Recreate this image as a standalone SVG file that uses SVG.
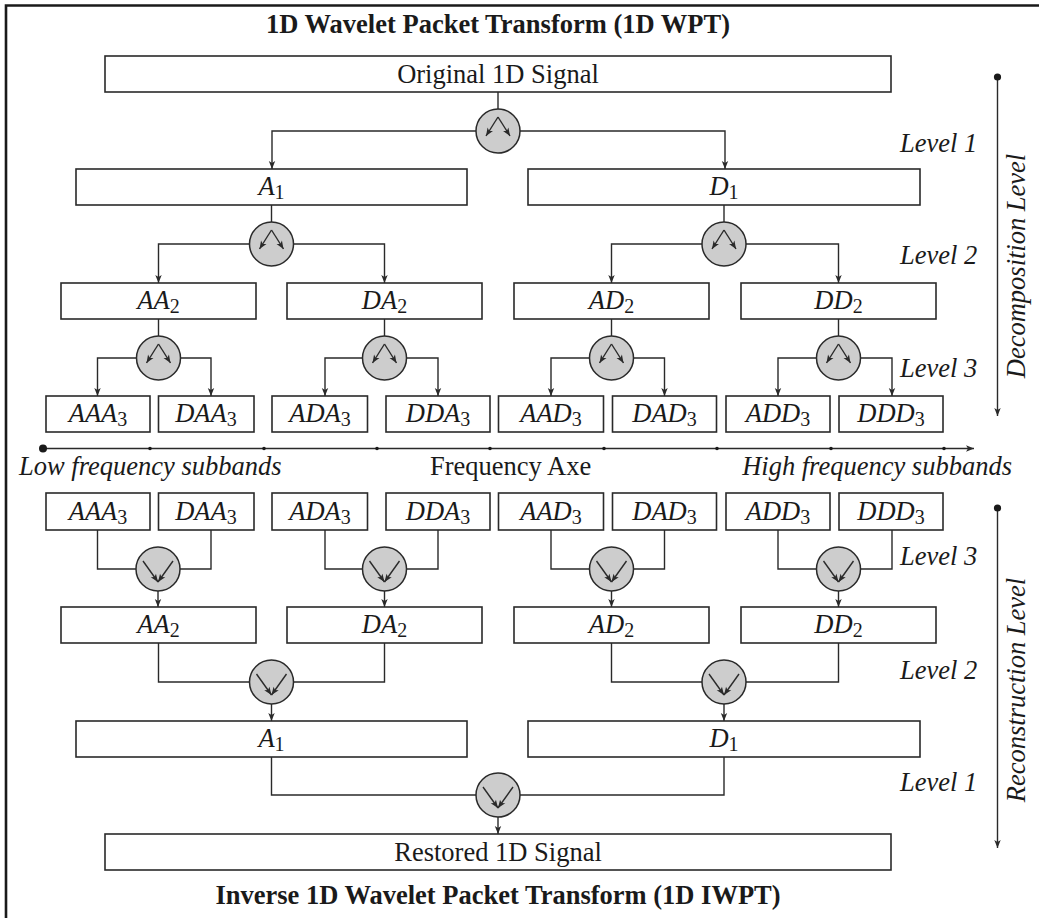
<svg xmlns="http://www.w3.org/2000/svg" xmlns:xlink="http://www.w3.org/1999/xlink" width="1039" height="918" viewBox="0 0 1039 918">
  <style>
    text { font-family: "Liberation Serif", "Times New Roman", serif; font-size: 26.5px; fill: #1a1a1a; }
    .title { font-weight: bold; font-size: 26.5px; }
    .it { font-style: italic; }
    .sub { font-style: normal; font-size: 20px; }
    .box { fill: #ffffff; stroke: #2a2a2a; stroke-width: 1.6; }
    .wire { fill: none; stroke: #2a2a2a; stroke-width: 1.4; }
    .arw { fill: none; stroke: #2a2a2a; stroke-width: 1.4; marker-end: url(#ah); }
    .op { fill: #cdcdcd; stroke: #2a2a2a; stroke-width: 1.5; }
    .frame { fill: none; stroke: #1a1a1a; stroke-width: 2.6; }
  </style>
  <defs>
    <marker id="ah" viewBox="-9 -4 10 8" refX="0" refY="0" markerWidth="10" markerHeight="8" orient="auto" markerUnits="userSpaceOnUse">
      <path d="M0,0 L-8,-3.2 L-6,0 L-8,3.2 z" fill="#2a2a2a"/>
    </marker>
    <!-- analysis (split) operator -->
    <g id="split">
      <circle class="op" cx="0" cy="0" r="22"/>
      <path class="arw" d="M0,-14 L-12,5"/>
      <path class="arw" d="M0,-14 L12,5"/>
    </g>
    <!-- synthesis (merge) operator -->
    <g id="merge">
      <circle class="op" cx="0" cy="0" r="22"/>
      <path class="arw" d="M-15,-8 L0,13"/>
      <path class="arw" d="M15,-8 L0,13"/>
    </g>
  </defs>

  <rect x="0" y="0" width="1039" height="918" fill="#ffffff"/>
  <path class="frame" d="M6,918 V5.5 H1039"/>

  <!-- headings -->
  <text class="title" x="498" y="33" text-anchor="middle">1D Wavelet Packet Transform (1D WPT)</text>
  <text class="title" x="498" y="904" text-anchor="middle">Inverse 1D Wavelet Packet Transform (1D IWPT)</text>

  <!-- connectors -->
  <g id="connectors">
    <!-- decomposition -->
    <path class="wire" d="M498,92 V109"/>
    <path class="arw" d="M476,131 H272 V169"/>
    <path class="arw" d="M520,131 H725 V169"/>
    <path class="wire" d="M271.5,205 V222"/>
    <path class="wire" d="M724,205 V222"/>
    <path class="arw" d="M249.5,244 H158.5 V283"/>
    <path class="arw" d="M293.5,244 H384.5 V283"/>
    <path class="arw" d="M702,244 H611.5 V283"/>
    <path class="arw" d="M746,244 H838.5 V283"/>
    <path class="wire" d="M158.5,319 V336"/>
    <path class="wire" d="M384.5,319 V336"/>
    <path class="wire" d="M611.5,319 V336"/>
    <path class="wire" d="M838.5,319 V336"/>
    <path class="arw" d="M136.5,358 H97.5 V396"/>
    <path class="arw" d="M180.5,358 H211 V396"/>
    <path class="arw" d="M362.5,358 H325 V396"/>
    <path class="arw" d="M406.5,358 H438 V396"/>
    <path class="arw" d="M589.5,358 H551 V396"/>
    <path class="arw" d="M633.5,358 H664.5 V396"/>
    <path class="arw" d="M816.5,358 H778 V396"/>
    <path class="arw" d="M860.5,358 H892 V396"/>

    <!-- frequency axis -->
    <path class="arw" d="M43,448.5 H974"/>
    <circle cx="43" cy="448.5" r="4" fill="#1a1a1a"/>
    <g fill="#1a1a1a">
      <circle cx="150" cy="448.5" r="1.8"/>
      <circle cx="264" cy="448.5" r="1.8"/>
      <circle cx="377" cy="448.5" r="1.8"/>
      <circle cx="490" cy="448.5" r="1.8"/>
      <circle cx="604" cy="448.5" r="1.8"/>
      <circle cx="717" cy="448.5" r="1.8"/>
      <circle cx="831" cy="448.5" r="1.8"/>
      <circle cx="944" cy="448.5" r="1.8"/>
    </g>

    <!-- reconstruction -->
    <path class="wire" d="M97.5,530 V569 H136"/>
    <path class="wire" d="M211,530 V569 H180"/>
    <path class="wire" d="M325,530 V569 H362.5"/>
    <path class="wire" d="M438,530 V569 H406.5"/>
    <path class="wire" d="M551,530 V569 H589.5"/>
    <path class="wire" d="M664.5,530 V569 H633.5"/>
    <path class="wire" d="M778,530 V569 H816.5"/>
    <path class="wire" d="M892,530 V569 H860.5"/>
    <path class="arw" d="M158,591 V607"/>
    <path class="arw" d="M384.5,591 V607"/>
    <path class="arw" d="M611.5,591 V607"/>
    <path class="arw" d="M838.5,591 V607"/>
    <path class="wire" d="M158.5,643 V682 H249.5"/>
    <path class="wire" d="M384.5,643 V682 H293.5"/>
    <path class="wire" d="M611.5,643 V682 H702"/>
    <path class="wire" d="M838.5,643 V682 H746"/>
    <path class="arw" d="M271.5,704 V721"/>
    <path class="arw" d="M724,704 V721"/>
    <path class="wire" d="M271.5,757 V795 H476"/>
    <path class="wire" d="M724,757 V795 H520"/>
    <path class="arw" d="M498,817 V834"/>

    <!-- level direction arrows -->
    <path class="arw" d="M997.5,77 V416"/>
    <circle cx="997.5" cy="77" r="3.6" fill="#1a1a1a"/>
    <path class="arw" d="M997.5,508 V848"/>
    <circle cx="997.5" cy="508" r="3.6" fill="#1a1a1a"/>
  </g>

  <!-- decomposition tree -->
  <g id="orig">
    <rect class="box" x="105" y="56" width="786" height="36"/>
    <text x="498" y="83" text-anchor="middle">Original 1D Signal</text>
  </g>
  <g id="op-d0"><use xlink:href="#split" x="498" y="131"/></g>
  <g id="d-A1">
    <rect class="box" x="76" y="169" width="391" height="36"/>
    <text x="271.5" y="195" text-anchor="middle"><tspan class="it">A</tspan><tspan class="sub" dy="4">1</tspan></text>
  </g>
  <g id="d-D1">
    <rect class="box" x="528" y="169" width="392" height="36"/>
    <text x="724" y="195" text-anchor="middle"><tspan class="it">D</tspan><tspan class="sub" dy="4">1</tspan></text>
  </g>
  <g id="op-d1a"><use xlink:href="#split" x="271.5" y="244"/></g>
  <g id="op-d1d"><use xlink:href="#split" x="724" y="244"/></g>
  <g id="d-AA2">
    <rect class="box" x="61" y="283" width="195" height="36"/>
    <text x="158.5" y="309" text-anchor="middle"><tspan class="it">AA</tspan><tspan class="sub" dy="4">2</tspan></text>
  </g>
  <g id="d-DA2">
    <rect class="box" x="287" y="283" width="195" height="36"/>
    <text x="384.5" y="309" text-anchor="middle"><tspan class="it">DA</tspan><tspan class="sub" dy="4">2</tspan></text>
  </g>
  <g id="d-AD2">
    <rect class="box" x="514" y="283" width="195" height="36"/>
    <text x="611.5" y="309" text-anchor="middle"><tspan class="it">AD</tspan><tspan class="sub" dy="4">2</tspan></text>
  </g>
  <g id="d-DD2">
    <rect class="box" x="741" y="283" width="195" height="36"/>
    <text x="838.5" y="309" text-anchor="middle"><tspan class="it">DD</tspan><tspan class="sub" dy="4">2</tspan></text>
  </g>
  <g id="op-d2aa"><use xlink:href="#split" x="158.5" y="358"/></g>
  <g id="op-d2da"><use xlink:href="#split" x="384.5" y="358"/></g>
  <g id="op-d2ad"><use xlink:href="#split" x="611.5" y="358"/></g>
  <g id="op-d2dd"><use xlink:href="#split" x="838.5" y="358"/></g>
  <g id="d-AAA3">
    <rect class="box" x="46" y="396" width="104" height="36"/>
    <text x="98" y="422" text-anchor="middle"><tspan class="it">AAA</tspan><tspan class="sub" dy="4">3</tspan></text>
  </g>
  <g id="d-DAA3">
    <rect class="box" x="158.5" y="396" width="95.5" height="36"/>
    <text x="206" y="422" text-anchor="middle"><tspan class="it">DAA</tspan><tspan class="sub" dy="4">3</tspan></text>
  </g>
  <g id="d-ADA3">
    <rect class="box" x="272" y="396" width="95.5" height="36"/>
    <text x="320" y="422" text-anchor="middle"><tspan class="it">ADA</tspan><tspan class="sub" dy="4">3</tspan></text>
  </g>
  <g id="d-DDA3">
    <rect class="box" x="386" y="396" width="104" height="36"/>
    <text x="438" y="422" text-anchor="middle"><tspan class="it">DDA</tspan><tspan class="sub" dy="4">3</tspan></text>
  </g>
  <g id="d-AAD3">
    <rect class="box" x="498.5" y="396" width="105" height="36"/>
    <text x="551" y="422" text-anchor="middle"><tspan class="it">AAD</tspan><tspan class="sub" dy="4">3</tspan></text>
  </g>
  <g id="d-DAD3">
    <rect class="box" x="612.5" y="396" width="104" height="36"/>
    <text x="664.5" y="422" text-anchor="middle"><tspan class="it">DAD</tspan><tspan class="sub" dy="4">3</tspan></text>
  </g>
  <g id="d-ADD3">
    <rect class="box" x="726" y="396" width="104" height="36"/>
    <text x="778" y="422" text-anchor="middle"><tspan class="it">ADD</tspan><tspan class="sub" dy="4">3</tspan></text>
  </g>
  <g id="d-DDD3">
    <rect class="box" x="839" y="396" width="104" height="36"/>
    <text x="891" y="422" text-anchor="middle"><tspan class="it">DDD</tspan><tspan class="sub" dy="4">3</tspan></text>
  </g>

  <!-- axis labels -->
  <g id="axis-labels">
    <text class="it" x="19" y="475">Low frequency subbands</text>
    <text x="430" y="475">Frequency Axe</text>
    <text class="it" x="1012" y="475" text-anchor="end">High frequency subbands</text>
  </g>

  <!-- reconstruction tree -->
  <g id="r-AAA3">
    <rect class="box" x="46" y="493" width="104" height="37"/>
    <text x="98" y="520" text-anchor="middle"><tspan class="it">AAA</tspan><tspan class="sub" dy="4">3</tspan></text>
  </g>
  <g id="r-DAA3">
    <rect class="box" x="158.5" y="493" width="95.5" height="37"/>
    <text x="206" y="520" text-anchor="middle"><tspan class="it">DAA</tspan><tspan class="sub" dy="4">3</tspan></text>
  </g>
  <g id="r-ADA3">
    <rect class="box" x="272" y="493" width="95.5" height="37"/>
    <text x="320" y="520" text-anchor="middle"><tspan class="it">ADA</tspan><tspan class="sub" dy="4">3</tspan></text>
  </g>
  <g id="r-DDA3">
    <rect class="box" x="386" y="493" width="104" height="37"/>
    <text x="438" y="520" text-anchor="middle"><tspan class="it">DDA</tspan><tspan class="sub" dy="4">3</tspan></text>
  </g>
  <g id="r-AAD3">
    <rect class="box" x="498.5" y="493" width="105" height="37"/>
    <text x="551" y="520" text-anchor="middle"><tspan class="it">AAD</tspan><tspan class="sub" dy="4">3</tspan></text>
  </g>
  <g id="r-DAD3">
    <rect class="box" x="612.5" y="493" width="104" height="37"/>
    <text x="664.5" y="520" text-anchor="middle"><tspan class="it">DAD</tspan><tspan class="sub" dy="4">3</tspan></text>
  </g>
  <g id="r-ADD3">
    <rect class="box" x="726" y="493" width="104" height="37"/>
    <text x="778" y="520" text-anchor="middle"><tspan class="it">ADD</tspan><tspan class="sub" dy="4">3</tspan></text>
  </g>
  <g id="r-DDD3">
    <rect class="box" x="839" y="493" width="104" height="37"/>
    <text x="891" y="520" text-anchor="middle"><tspan class="it">DDD</tspan><tspan class="sub" dy="4">3</tspan></text>
  </g>
  <g id="op-r3aa"><use xlink:href="#merge" x="158" y="569"/></g>
  <g id="op-r3da"><use xlink:href="#merge" x="384.5" y="569"/></g>
  <g id="op-r3ad"><use xlink:href="#merge" x="611.5" y="569"/></g>
  <g id="op-r3dd"><use xlink:href="#merge" x="838.5" y="569"/></g>
  <g id="r-AA2">
    <rect class="box" x="61" y="607" width="195" height="36"/>
    <text x="158.5" y="633" text-anchor="middle"><tspan class="it">AA</tspan><tspan class="sub" dy="4">2</tspan></text>
  </g>
  <g id="r-DA2">
    <rect class="box" x="287" y="607" width="195" height="36"/>
    <text x="384.5" y="633" text-anchor="middle"><tspan class="it">DA</tspan><tspan class="sub" dy="4">2</tspan></text>
  </g>
  <g id="r-AD2">
    <rect class="box" x="514" y="607" width="195" height="36"/>
    <text x="611.5" y="633" text-anchor="middle"><tspan class="it">AD</tspan><tspan class="sub" dy="4">2</tspan></text>
  </g>
  <g id="r-DD2">
    <rect class="box" x="741" y="607" width="195" height="36"/>
    <text x="838.5" y="633" text-anchor="middle"><tspan class="it">DD</tspan><tspan class="sub" dy="4">2</tspan></text>
  </g>
  <g id="op-r2a"><use xlink:href="#merge" x="271.5" y="682"/></g>
  <g id="op-r2d"><use xlink:href="#merge" x="724" y="682"/></g>
  <g id="r-A1">
    <rect class="box" x="76" y="721" width="391" height="36"/>
    <text x="271.5" y="747" text-anchor="middle"><tspan class="it">A</tspan><tspan class="sub" dy="4">1</tspan></text>
  </g>
  <g id="r-D1">
    <rect class="box" x="528" y="721" width="392" height="36"/>
    <text x="724" y="747" text-anchor="middle"><tspan class="it">D</tspan><tspan class="sub" dy="4">1</tspan></text>
  </g>
  <g id="op-r1"><use xlink:href="#merge" x="498" y="795"/></g>
  <g id="restored">
    <rect class="box" x="105" y="834" width="786" height="36"/>
    <text x="498" y="861" text-anchor="middle">Restored 1D Signal</text>
  </g>

  <!-- level annotations -->
  <g id="levels">
    <text class="it" x="900" y="152">Level 1</text>
    <text class="it" x="900" y="264">Level 2</text>
    <text class="it" x="900" y="377">Level 3</text>
    <text class="it" x="900" y="565">Level 3</text>
    <text class="it" x="900" y="679">Level 2</text>
    <text class="it" x="900" y="791">Level 1</text>
    <text class="it" text-anchor="middle" transform="translate(1025,266) rotate(-90)">Decomposition Level</text>
    <text class="it" text-anchor="middle" transform="translate(1025,690) rotate(-90)">Reconstruction Level</text>
  </g>
</svg>
